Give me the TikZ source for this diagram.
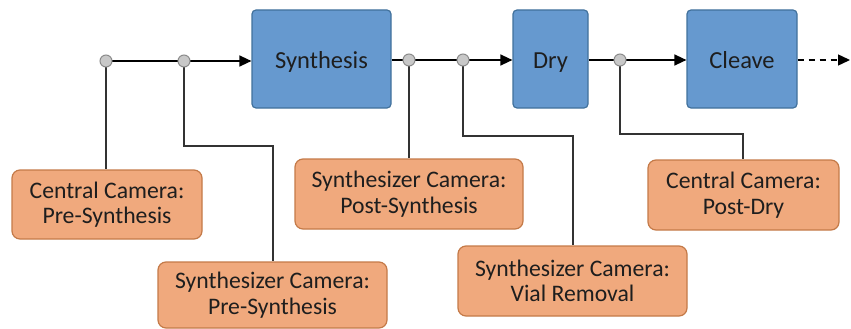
\documentclass[tikz,border=0pt]{standalone}
\usepackage{fontspec}
\setmainfont{Carlito}
\usetikzlibrary{arrows.meta}
\definecolor{bfill}{HTML}{6699CF}
\definecolor{bdraw}{HTML}{41719C}
\definecolor{ofill}{HTML}{F0A97D}
\definecolor{odraw}{HTML}{C47A48}
\definecolor{cfill}{HTML}{C8C8C8}
\definecolor{cdraw}{HTML}{8C8C8C}
\definecolor{txt}{HTML}{1E1E1E}
\tikzset{
  proc/.style={draw=bdraw, fill=bfill, line width=1.2pt, rounded corners=4pt, inner sep=0pt,
    text height=20pt, text depth=2pt,
    font=\fontsize{24.5}{28}\selectfont, text=txt},
  cam/.style={draw=odraw, fill=ofill, line width=1.2pt, rounded corners=8pt, inner sep=0pt,
    align=center, font=\fontsize{23.7}{25.5}\selectfont, text=txt},
  tap/.style={circle, draw=cdraw, fill=cfill, line width=1pt, minimum size=12pt, inner sep=0pt},
  flow/.style={line width=1.4pt, black, -{Triangle[length=12pt,width=11pt]}},
  plain/.style={line width=1.4pt, black},
  link/.style={line width=1.3pt, black!80}
}
\begin{document}
\begin{tikzpicture}[x=1pt,y=-1pt]
\useasboundingbox (0,0) rectangle (851,329);
% process boxes
\node[proc, minimum width=139pt, minimum height=98pt] (syn) at (321.5,59) {Synthesis};
\node[proc, minimum width=75pt, minimum height=98pt] (dry) at (550.5,59) {Dry};
\node[proc, minimum width=110pt, minimum height=98pt] (clv) at (742,59) {Cleave};
% camera boxes
\node[cam, minimum width=190pt, minimum height=69pt] (c1b) at (107,204.5) {Central Camera:\\Pre-Synthesis};
\node[cam, minimum width=229pt, minimum height=66pt] (c2b) at (272.5,295) {Synthesizer Camera:\\Pre-Synthesis};
\node[cam, minimum width=228pt, minimum height=70pt] (c3b) at (409,194) {Synthesizer Camera:\\Post-Synthesis};
\node[cam, minimum width=229pt, minimum height=70pt] (c4b) at (572.5,281) {Synthesizer Camera:\\Vial Removal};
\node[cam, minimum width=191pt, minimum height=70pt] (c5b) at (743.5,195) {Central Camera:\\Post-Dry};
% taps
\coordinate (t1) at (106,61);
\coordinate (t2) at (184,61);
\coordinate (t3) at (409,60);
\coordinate (t4) at (463,60);
\coordinate (t5) at (620,60);
\coordinate (end) at (850,60);
% connectors from taps
\draw[link] (t1) -- (t1 |- c1b.north);
\draw[link] (t2) -- (184,146) -- (273,146) -- (273,0 |- c2b.north);
\draw[link] (t3) -- (t3 |- c3b.north);
\draw[link] (t4) -- (463,136) -- (573,136) -- (573,0 |- c4b.north);
\draw[link] (t5) -- (620,134) -- (743,134) -- (743,0 |- c5b.north);
% main flow
\draw[plain] (t1) -- (t2);
\draw[flow] (t2) -- (t2 -| syn.west);
\draw[plain] (syn.east |- t3) -- (t3) -- (t4);
\draw[flow] (t4) -- (t4 -| dry.west);
\draw[plain] (dry.east |- t5) -- (t5);
\draw[flow] (t5) -- (t5 -| clv.west);
\draw[flow, dash pattern=on 6pt off 5pt] (clv.east |- end) -- (end);
% tap circles
\foreach \t in {t1,t2,t3,t4,t5} \node[tap] at (\t) {};
\end{tikzpicture}
\end{document}
